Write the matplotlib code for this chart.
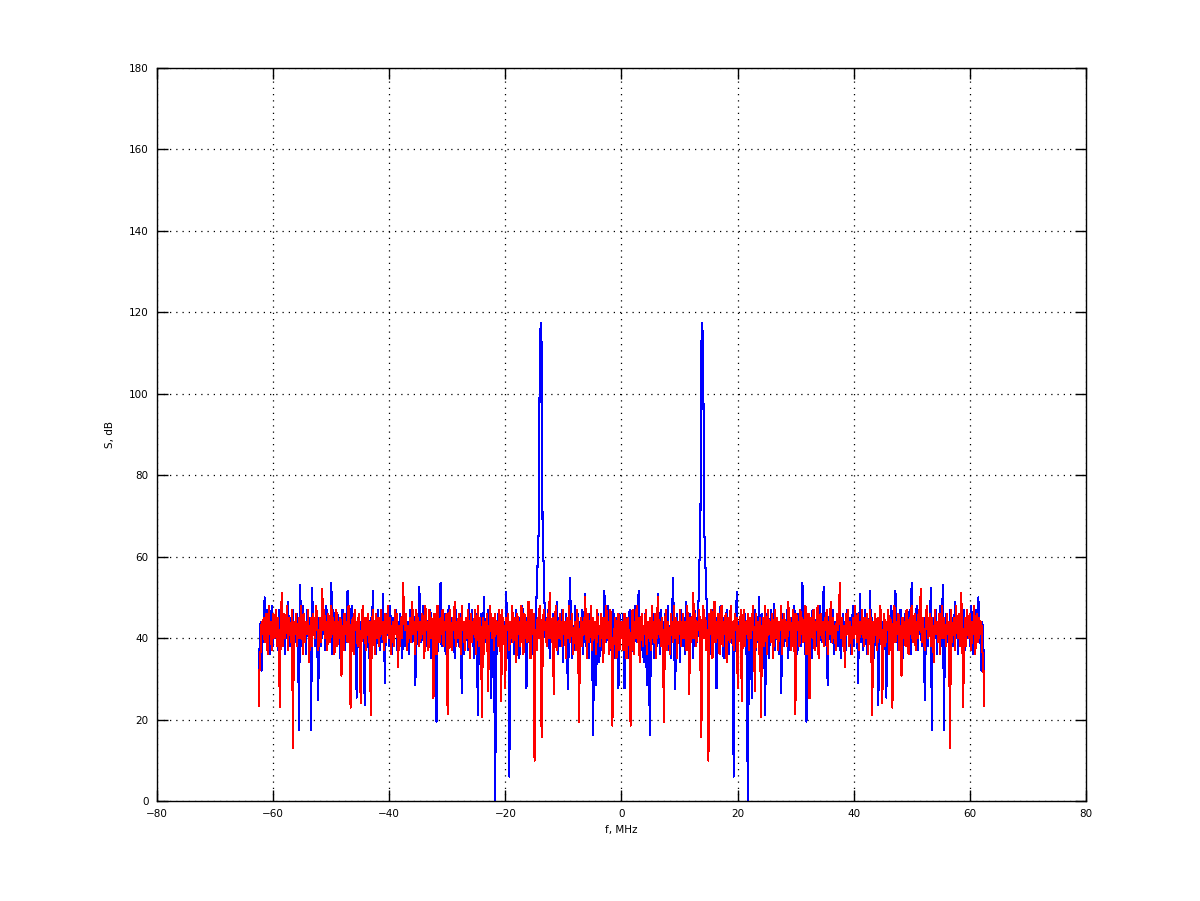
import numpy as np
import matplotlib
matplotlib.use('Agg')
import matplotlib.pyplot as plt

# spectrum is symmetric around 0 MHz -> values read for 0..62.5 MHz, mirrored below
f_max = 62.5

blue_half = [
    44, 40, 46, 27.7, 38, 45, 41, 35, 47, 42, 38, 44, 36, 48, 41, 39, 45, 51.6, 43, 37,
    46, 40, 34, 43, 47, 28.5, 39, 44, 16.2, 37, 42, 46, 35, 41, 45, 38, 50.8, 43, 36, 47,
    40, 44, 33, 46, 39, 42, 48, 37, 43, 35, 45, 54.7, 41, 27.4, 38, 46, 40, 44, 34, 47,
    42, 38, 45, 36, 49, 41, 44, 37, 46, 40, 43, 35, 48, 42, 45, 39, 47, 58, 64, 112,
    117.5, 102, 65.7, 58.4, 50.6, 41, 46, 38, 44, 36, 42, 47, 39, 45, 27.7, 40, 43, 37, 48, 41,
    45, 35, 44, 39, 47, 42, 36, 46, 40, 43, 38, 6, 45, 41, 51.3, 37, 44, 40, 47, 35,
    43, 39, 46, 36, 42, -5, 40, 45, 38, 25.3, 44, 41, 47, 37, 43, 39, 50, 42, 35, 46,
    40, 44, 21, 38, 46, 41, 35, 43, 47, 39, 42, 48.5, 37, 45, 40, 44, 36, 42, 26.6, 41,
    46, 38, 43, 40, 47, 35, 44, 41, 37, 45, 42, 48, 39, 44, 36, 46, 40, 43, 38, 53.6,
    41, 45, 37, 19.5, 43, 46, 39, 42, 35, 47, 40, 44, 38, 45, 41, 36, 48, 42, 39, 44,
    52.5, 40, 45, 37, 28.5, 43, 46, 39, 42, 47, 36, 44, 40, 45, 38, 48, 41, 35, 43, 46,
    39, 44, 37, 47, 42, 40, 45, 36, 43, 48, 38, 44, 41, 46, 29, 42, 50.8, 39, 45, 37,
    43, 47, 40, 36, 44, 41, 51.5, 38, 45, 42, 35, 46, 40, 43, 23.5, 39, 47, 41, 44, 37,
    45, 40, 25.4, 43, 46, 38, 42, 48, 36, 44, 41, 51.7, 39, 45, 37, 43, 47, 40, 35, 44,
    42, 46, 38, 44, 40, 47, 36, 53.6, 41, 45, 39, 43, 48, 37, 44, 41, 46, 38, 42, 45,
    24.7, 40, 46, 38, 44, 42, 52.3, 17.5, 45, 39, 43, 47, 36, 44, 41, 48, 38, 45, 53, 17.3,
    42, 46, 39, 44, 37, 47, 41, 45, 38, 43, 49, 40, 44, 36, 46, 42, 39, 45, 41, 47,
    37, 43, 46, 40, 44, 38, 48, 42, 36, 45, 41, 47, 39, 50, 43, 40, 32, 44, 38, 30,
]

red_half = [
    40, 44, 37, 46, 41, 35, 45, 42, 38, 18.5, 43, 47, 36, 44, 40, 48, 39, 45, 34, 42,
    46, 38, 43, 41, 47, 36, 44, 40, 45, 37, 48, 42, 39, 46, 35, 43, 50, 41, 44, 38,
    45, 40, 19.5, 43, 47, 37, 44, 41, 36, 46, 42, 39, 48, 40, 45, 35, 44, 41, 47, 38,
    43, 46, 40, 44, 37, 48, 42, 26.3, 45, 39, 43, 51, 40, 46, 38, 44, 42, 47, 36, 15.6,
    44, 48, 40, 45, 37, 42, 9.9, 46, 41, 47, 35, 43, 49, 39, 44, 40, 46, 36, 43, 48,
    38, 44, 41, 46, 34, 45, 42, 39, 48, 40, 44, 37, 46, 42, 45, 27.7, 43, 40, 47, 24.5,
    43, 47, 38, 44, 41, 46, 37, 45, 40, 43, 48, 39, 27, 46, 42, 44, 36, 45, 20.5, 41,
    45, 38, 48, 42, 36, 47, 41, 44, 39, 46, 35, 43, 47, 40, 45, 37, 44, 42, 48, 36,
    43, 46, 40, 44, 38, 49, 42, 45, 37, 43, 47, 40, 21.4, 46, 42, 44, 38, 47, 41, 45,
    39, 44, 48, 36, 43, 46, 25.2, 41, 45, 40, 47, 37, 44, 42, 48, 35, 43, 46, 40, 44,
    38, 45, 42, 47, 36, 44, 41, 49, 39, 45, 40, 43, 37, 46, 42, 44, 53.6, 40, 45, 38,
    43, 33, 46, 41, 47, 38, 44, 42, 36, 45, 40, 48, 43, 39, 46, 37, 44, 41, 47, 42,
    38, 45, 40, 46, 36, 43, 47, 41, 21, 44, 39, 46, 42, 37, 45, 40, 48, 43, 24, 41,
    46, 38, 44, 42, 47, 36, 45, 40, 22.9, 43, 48, 39, 44, 41, 46, 37, 43, 30.8, 45, 40,
    44, 38, 47, 42, 36, 45, 41, 48, 39, 43, 46, 37, 44, 40, 47, 42, 52, 39, 45, 41,
    37, 44, 48, 40, 43, 46, 38, 45, 42, 34, 47, 41, 44, 39, 46, 36, 43, 48, 40, 45,
    42, 38, 46, 41, 44, 12.9, 47, 39, 43, 45, 37, 48, 42, 40, 46, 38, 51, 44, 23.1, 41,
    45, 38, 47, 42, 40, 46, 37, 44, 41, 48, 36, 43, 46, 39, 45, 41, 44, 37, 33, 23.3,
]

x_ticks = [-80, -60, -40, -20, 0, 20, 40, 60, 80]
y_ticks = [0, 20, 40, 60, 80, 100, 120, 140, 160, 180]


def mirror(half):
    half = np.asarray(half, dtype=float)
    fh = np.linspace(0, f_max, len(half))
    return np.concatenate([-fh[:0:-1], fh]), np.concatenate([half[:0:-1], half])


f_blue, s_blue = mirror(blue_half)
f_red, s_red = mirror(red_half)

fig = plt.figure(figsize=(12, 9.01), dpi=100)
ax = fig.add_axes([0.1308, 0.111, 0.7742, 0.8135])

ax.plot(f_blue, s_blue, color='#0000ff', lw=0.75, antialiased=False)
ax.plot(f_red, s_red, color='#ff0000', lw=0.75, antialiased=False)

ax.set_xlim(-80, 80)
ax.set_ylim(0, 180)
ax.set_xticks(x_ticks)
ax.set_yticks(y_ticks)
ax.grid(True, color='black', linestyle=(0, (1, 4)), linewidth=0.9)
ax.tick_params(direction='in', length=8, width=1, top=True, right=True,
               labelsize=7.5, pad=6)
for sp in ax.spines.values():
    sp.set_linewidth(1)
ax.set_xlabel('f, MHz', fontsize=7.5, labelpad=4)
ax.set_ylabel('S, dB', fontsize=7.5, labelpad=10)

fig.savefig('out.png', dpi=100)
